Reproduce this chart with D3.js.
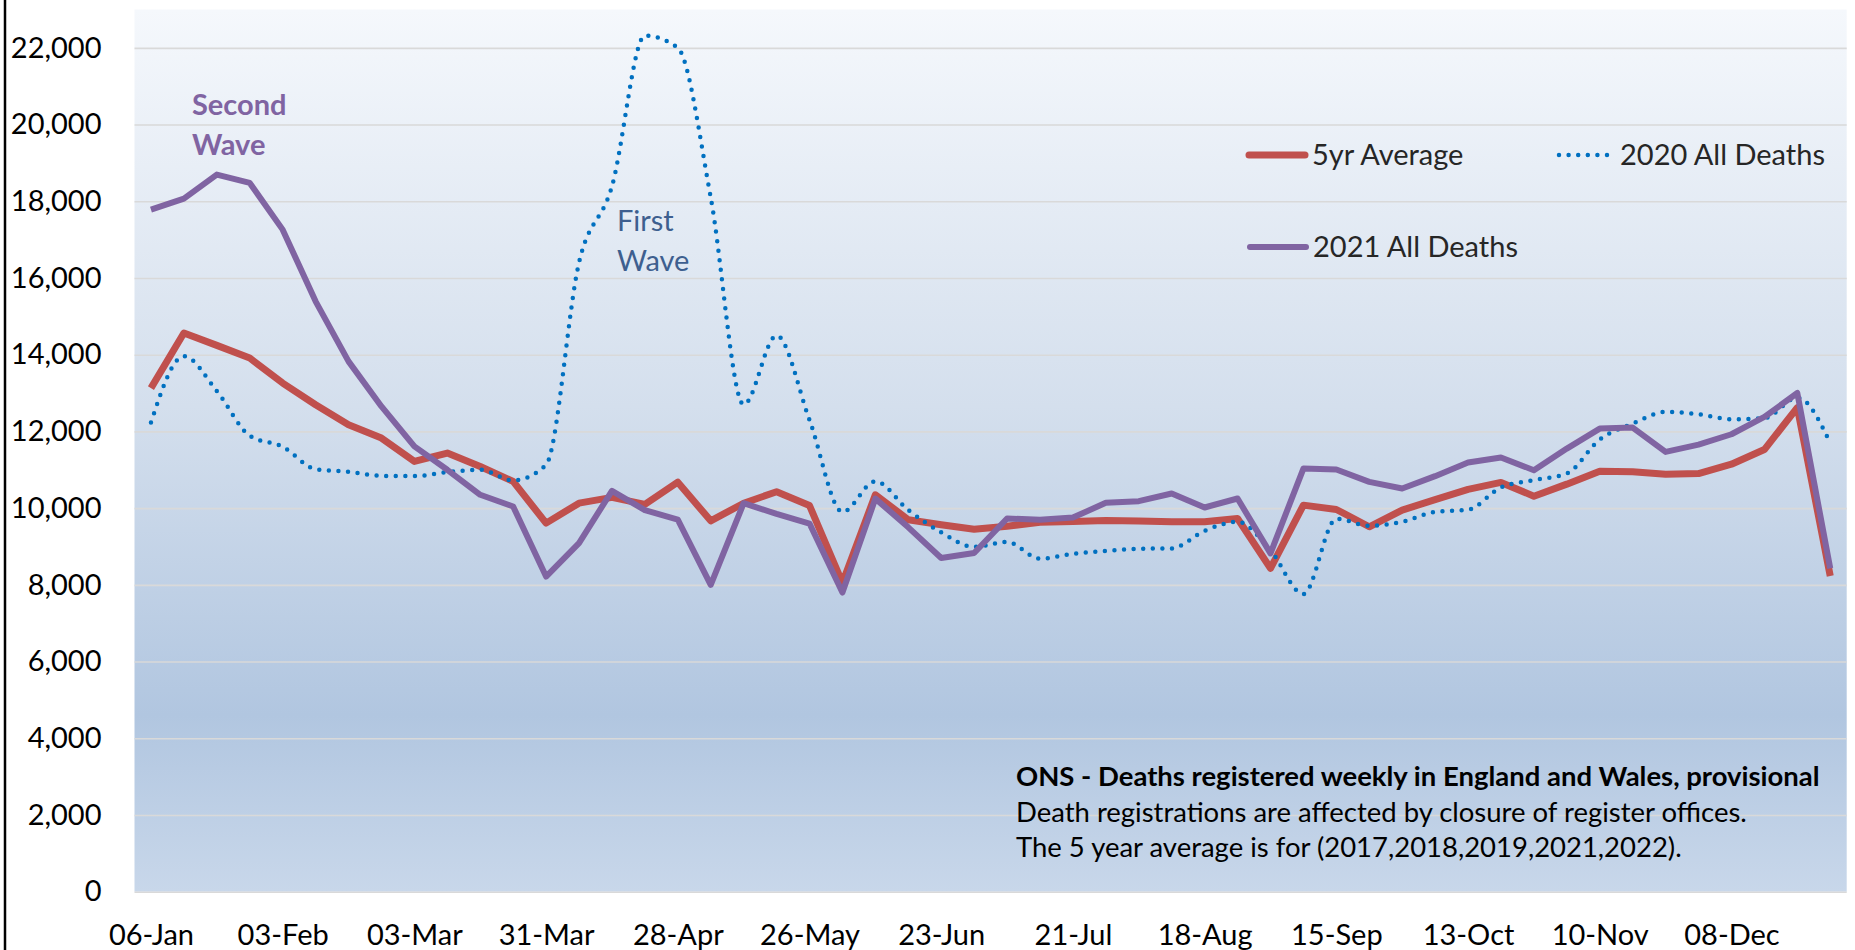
<!DOCTYPE html>
<html>
<head>
<meta charset="utf-8">
<title>Weekly deaths England and Wales</title>
<script src="https://cdn.jsdelivr.net/npm/d3@7"></script>
<style>
    html, body { margin: 0; padding: 0; background: #ffffff; }
    #data-viz { width: 1855px; height: 950px; overflow: hidden; }
    text { font-family: "Lato", "Carlito", "Liberation Sans", sans-serif; }
</style>
</head>
<body>
<div id="data-viz"></div>
<script>

// week ending dates (categories)
const weeks = ["06-Jan","13-Jan","20-Jan","27-Jan","03-Feb","10-Feb","17-Feb","24-Feb",
    "03-Mar","10-Mar","17-Mar","24-Mar","31-Mar","07-Apr","14-Apr","21-Apr",
    "28-Apr","05-May","12-May","19-May","26-May","02-Jun","09-Jun","16-Jun",
    "23-Jun","30-Jun","07-Jul","14-Jul","21-Jul","28-Jul","04-Aug","11-Aug",
    "18-Aug","25-Aug","01-Sep","08-Sep","15-Sep","22-Sep","29-Sep","06-Oct",
    "13-Oct","20-Oct","27-Oct","03-Nov","10-Nov","17-Nov","24-Nov","01-Dec",
    "08-Dec","15-Dec","22-Dec","29-Dec"]

// only every 4th week gets a label
const weekLabels = ["06-Jan","03-Feb","03-Mar","31-Mar","28-Apr","26-May","23-Jun",
    "21-Jul","18-Aug","15-Sep","13-Oct","10-Nov","08-Dec"]

const yTicks = [0, 2000, 4000, 6000, 8000, 10000, 12000, 14000, 16000, 18000, 20000, 22000]

const avg5yr = [13130,14565,14243,13913,13261,12696,12174,11826,11217,11435,11087,10696,
    9609,10130,10280,10098,10677,9669,10128,10428,10068,8050,10348,9698,
    9568,9449,9530,9630,9650,9680,9662,9644,9644,9731,8430,10078,
    9965,9514,9950,10220,10490,10670,10312,10625,10963,10946,10885,10902,
    11145,11527,12620,8230]

const deaths2020 = [12235,13960,13050,11887,11600,11017,10948,10843,10835,10939,11000,10722,
    11130,16400,18390,22320,22000,18100,12700,14500,12300,9900,10700,9950,
    9370,8990,9120,8680,8810,8885,8941,8950,9410,9644,8900,7760,
    9720,9540,9644,9904,9960,10540,10729,10902,11787,12204,12508,12447,
    12317,12343,12881,11700]

const deaths2021 = [17783,18070,18696,18478,17261,15391,13826,12652,11609,11000,10348,10043,
    8217,9087,10450,9948,9698,8000,10128,9848,9598,7800,10248,9499,
    8700,8830,9729,9699,9753,10139,10182,10382,10017,10251,8820,11032,
    11006,10685,10512,10833,11189,11319,10989,11553,12074,12100,11466,11657,
    11926,12377,13002,8429]

const seriesNames = ["5yr Average", "2020 All Deaths", "2021 All Deaths"]

const notes = ["ONS - Deaths registered weekly in England and Wales, provisional",
    "Death registrations are affected by closure of register offices.",
    "The 5 year average is for (2017,2018,2019,2021,2022)."]

class DeathsChart {

    constructor() {

        var self = this

        this.width = 1855

        this.height = 950

        this.plot = { left: 134.5, right: 1846.7, top: 9.5, bottom: 891.7 }

        this.colours = { avg: "#C0504D", y2020: "#0070C0", y2021: "#8064A2" }

        this.x = d3.scalePoint()
            .domain(weeks)
            .range([self.plot.left, self.plot.right])
            .padding(0.5)

        this.y = d3.scaleLinear()
            .domain([0, 23000])
            .range([self.plot.bottom, self.plot.top])

        this.create()

    }

    create() {

        var self = this

        self.svg = d3.select("#data-viz").append("svg")
            .attr("width", self.width)
            .attr("height", self.height)

        var grad = self.svg.append("defs").append("linearGradient")
            .attr("id", "plot-bg")
            .attr("x1", 0).attr("y1", 0).attr("x2", 0).attr("y2", 1)

        grad.append("stop").attr("offset", "0%").attr("stop-color", "#f5f8fc")
        grad.append("stop").attr("offset", "45%").attr("stop-color", "#d4dfed")
        grad.append("stop").attr("offset", "80%").attr("stop-color", "#b1c6e0")
        grad.append("stop").attr("offset", "100%").attr("stop-color", "#c8d7ea")

        self.svg.append("rect")
            .attr("x", self.plot.left)
            .attr("y", self.plot.top)
            .attr("width", self.plot.right - self.plot.left)
            .attr("height", self.plot.bottom - self.plot.top)
            .attr("fill", "url(#plot-bg)")

        // frame edge on the left
        self.svg.append("line")
            .attr("x1", 5).attr("x2", 5)
            .attr("y1", 0).attr("y2", self.height)
            .attr("stroke", "#000")
            .attr("stroke-width", 2.5)

        self.axes()

        self.notes()

        self.lines()

        self.legend()

        self.annotations()

    }

    axes() {

        var self = this

        var yAxis = d3.axisLeft(self.y)
            .tickValues(yTicks)
            .tickSize(-(self.plot.right - self.plot.left))
            .tickPadding(33)
            .tickFormat(d3.format(",d"))

        var gy = self.svg.append("g")
            .attr("transform", `translate(${self.plot.left},0)`)
            .call(yAxis)

        gy.select(".domain").remove()
        gy.selectAll(".tick line").attr("stroke", "#d9d9d9").attr("stroke-width", 1.6)
        gy.selectAll(".tick text")
            .attr("font-size", 29)
            .attr("fill", "#000")
            .style("font-family", "Lato, Carlito, 'Liberation Sans', sans-serif")

        var xAxis = d3.axisBottom(self.x)
            .tickValues(weekLabels)
            .tickSize(0)
            .tickPadding(0)

        var gx = self.svg.append("g")
            .attr("transform", `translate(0,${self.plot.bottom})`)
            .call(xAxis)

        gx.select(".domain").remove()
        gx.selectAll(".tick text")
            .attr("y", 53)
            .attr("dy", 0)
            .attr("font-size", 29)
            .attr("fill", "#000")
            .style("font-family", "Lato, Carlito, 'Liberation Sans', sans-serif")

    }

    lines() {

        var self = this

        var straight = d3.line()
            .x((d, i) => self.x(weeks[i]))
            .y(d => self.y(d))

        // smoothed line for 2020, turning points stay on the weeks
        var smooth = d3.line()
            .x((d, i) => self.x(weeks[i]))
            .y(d => self.y(d))
            .curve(d3.curveMonotoneX)

        self.svg.append("path")
            .datum(avg5yr)
            .attr("d", straight)
            .attr("fill", "none")
            .attr("stroke", self.colours.avg)
            .attr("stroke-width", 7)
            .attr("stroke-linejoin", "round")

        self.svg.append("path")
            .datum(deaths2020)
            .attr("d", smooth)
            .attr("fill", "none")
            .attr("stroke", self.colours.y2020)
            .attr("stroke-width", 4.5)
            .attr("stroke-linecap", "round")
            .attr("stroke-dasharray", "0 9.6")

        self.svg.append("path")
            .datum(deaths2021)
            .attr("d", straight)
            .attr("fill", "none")
            .attr("stroke", self.colours.y2021)
            .attr("stroke-width", 6)
            .attr("stroke-linejoin", "round")

    }

    legend() {

        var self = this

        var items = [
            { name: seriesNames[0], x: 1249, y: 155, colour: self.colours.avg, width: 7, dash: null },
            { name: seriesNames[1], x: 1559, y: 155, colour: self.colours.y2020, width: 4.5, dash: "0 9.6" },
            { name: seriesNames[2], x: 1250, y: 247, colour: self.colours.y2021, width: 6, dash: null }
        ]

        var g = self.svg.append("g").selectAll("g")
            .data(items)
            .join("g")
            .attr("transform", d => `translate(${d.x},${d.y})`)

        g.append("line")
            .attr("x1", 0).attr("x2", 56)
            .attr("stroke", d => d.colour)
            .attr("stroke-width", d => d.width)
            .attr("stroke-linecap", "round")
            .attr("stroke-dasharray", d => d.dash)

        g.append("text")
            .attr("x", d => d.dash ? 61 : 63)
            .attr("y", 10)
            .attr("font-size", 29)
            .attr("fill", "#262626")
            .text(d => d.name)

    }

    annotations() {

        var self = this

        var second = self.svg.append("text")
            .attr("font-size", 29)
            .attr("font-weight", "bold")
            .attr("fill", self.colours.y2021)

        second.append("tspan").attr("x", 192).attr("y", 115).text("Second")
        second.append("tspan").attr("x", 192).attr("y", 155).text("Wave")

        var first = self.svg.append("text")
            .attr("font-size", 29)
            .attr("fill", "#3e5f8f")

        first.append("tspan").attr("x", 617).attr("y", 231).text("First")
        first.append("tspan").attr("x", 617).attr("y", 271).text("Wave")

    }

    notes() {

        var self = this

        var block = self.svg.append("g")
            .attr("transform", "translate(1016,0)")

        var rows = block.selectAll("text")
            .data(notes)
            .join("text")
            .attr("x", 0)
            .attr("y", (d, i) => 786 + i * 35.5)
            .attr("font-size", 26)
            .attr("font-weight", (d, i) => i === 0 ? "bold" : "normal")
            .attr("fill", "#000")
            .text(d => d)

        // size the block so the heading spans to its reference width
        var first = rows.node().getComputedTextLength()

        var size = 26 * 804 / first

        rows.attr("font-size", Math.min(size, 30))

    }

}

new DeathsChart()

</script>
</body>
</html>
